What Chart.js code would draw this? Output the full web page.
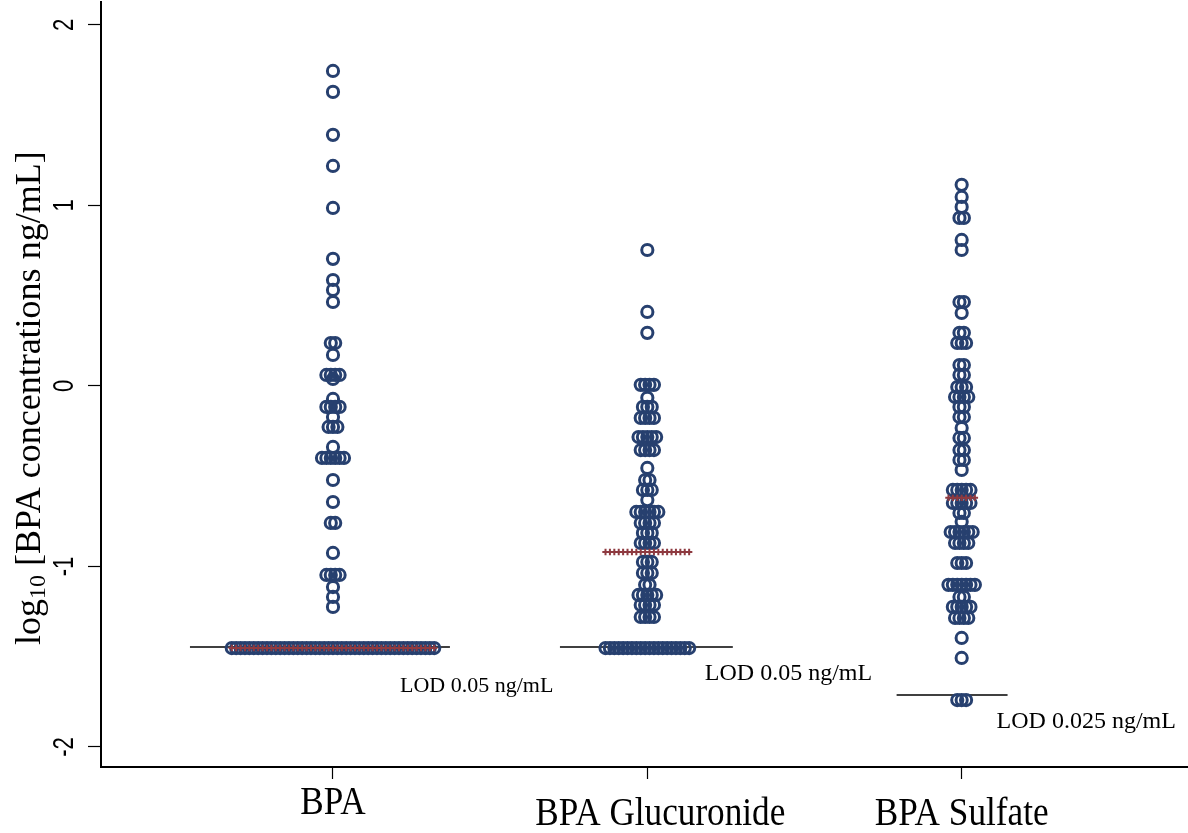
<!DOCTYPE html>
<html>
<head>
<meta charset="utf-8">
<title>BPA dot plot</title>
<script src="https://cdn.jsdelivr.net/npm/chart.js@4/dist/chart.umd.min.js"></script>
<style>
  body { margin: 0; background: #fff; }
</style>
</head>
<body>
<canvas id="dots" width="1188" height="833"></canvas>
<script>
// data (log10 ng/mL); counts = how many subjects sit on each level
const categories = ['BPA', 'BPA Glucuronide', 'BPA Sulfate'];
const yTicks = [-2, -1, 0, 1, 2];

const bpaLevels = [1.745, 1.629, 1.391, 1.219, 0.986, 0.704, 0.587, 0.532, 0.465, 0.238, 0.172, 0.061, 0.039,
  -0.072, -0.116, -0.172, -0.227, -0.338, -0.399, -0.521, -0.643, -0.759, -0.925, -1.047, -1.114, -1.169, -1.224, -1.452];
const bpaCounts = [1, 1, 1, 1, 1, 1, 1, 1, 1, 2, 1, 4, 1, 1, 4, 1, 3, 1, 6, 1, 1, 2, 1, 4, 1, 1, 1, 47];

const glucLevels = [0.753, 0.41, 0.294, 0.006, -0.066, -0.116, -0.177, -0.283, -0.355, -0.454, -0.521, -0.576,
  -0.632, -0.698, -0.759, -0.814, -0.870, -0.975, -1.036, -1.102, -1.158, -1.213, -1.280, -1.452];
const glucCounts = [1, 1, 1, 4, 1, 3, 4, 5, 4, 1, 2, 3, 1, 6, 4, 3, 4, 3, 3, 2, 5, 4, 4, 20];

const sulfLevels = [1.114, 1.047, 0.992, 0.931, 0.809, 0.753, 0.465, 0.404, 0.294, 0.238, 0.116, 0.061, -0.006,
  -0.061, -0.116, -0.172, -0.233, -0.288, -0.355, -0.41, -0.465, -0.576, -0.648, -0.704, -0.753, -0.809, -0.870,
  -0.981, -1.102, -1.169, -1.224, -1.285, -1.396, -1.507, -1.740];
const sulfCounts = [1, 1, 1, 2, 1, 1, 2, 1, 2, 3, 2, 2, 3, 4, 2, 2, 1, 2, 2, 2, 1, 5, 5, 2, 1, 6, 4, 3, 7, 2, 5, 4, 1, 1, 3];

const medians = [-1.452, -0.92, -0.62];
const lodLevels = [-1.446, -1.446, -1.712];
const lodLabels = ['LOD 0.05 ng/mL', 'LOD 0.05 ng/mL', 'LOD 0.025 ng/mL'];

// layout bits (category units / value units)
const dotStep = 0.014;
const lodSpans = [[0.545, 1.372], [1.722, 2.272], [2.793, 3.146]];
const lodTextAt = [[1.213, -1.695], [2.183, -1.629], [3.111, -1.895]];
const lodFontPx = [22, 24, 24];

const NAVY = '#27406f';
const MAROON = '#8e3a40';

function rowDots(levels, counts, cat) {
  const pts = [];
  levels.forEach((v, i) => {
    const n = counts[i];
    for (let j = 0; j < n; j++) pts.push({x: cat + (j - (n - 1) / 2) * dotStep, y: v});
  });
  return pts;
}

function medianRow(value, counts, cat) {
  const n = Math.max(...counts);
  const pts = [];
  for (let j = 0; j < n; j++) pts.push({x: cat + (j - (n - 1) / 2) * dotStep, y: value});
  return pts;
}

const columns = [[bpaLevels, bpaCounts], [glucLevels, glucCounts], [sulfLevels, sulfCounts]];
const datasets = [];

columns.forEach(([lv, ct], i) => {
  datasets.push({
    data: [{x: lodSpans[i][0], y: lodLevels[i]}, {x: lodSpans[i][1], y: lodLevels[i]}],
    showLine: true, borderColor: '#000', borderWidth: 1.6, pointRadius: 0, order: 3
  });
  datasets.push({
    data: rowDots(lv, ct, i + 1),
    pointStyle: 'circle', pointRadius: 5.6, pointBorderWidth: 3,
    pointBorderColor: NAVY, pointBackgroundColor: 'rgba(0,0,0,0)', order: 2
  });
  datasets.push({
    data: medianRow(medians[i], ct, i + 1),
    pointStyle: 'cross', pointRadius: 3.2, pointBorderWidth: 2,
    pointBorderColor: MAROON, order: 1
  });
});

const labelsPlugin = {
  id: 'labels',
  afterDraw(chart) {
    const ctx = chart.ctx;
    const xs = chart.scales.x, ys = chart.scales.y;
    ctx.save();
    ctx.fillStyle = '#000';

    // y tick labels, turned and narrow
    ctx.font = '29px "Liberation Sans"';
    ctx.textAlign = 'center';
    ctx.textBaseline = 'middle';
    yTicks.forEach(v => {
      ctx.save();
      ctx.translate(63.5, ys.getPixelForValue(v));
      ctx.rotate(-Math.PI / 2);
      ctx.scale(0.76, 1);
      ctx.fillText(String(v), 0, 1);
      ctx.restore();
    });

    // y title with subscript
    ctx.save();
    ctx.translate(40, 645);
    ctx.rotate(-Math.PI / 2);
    ctx.textAlign = 'left';
    ctx.textBaseline = 'alphabetic';
    ctx.font = '36px "Liberation Serif"';
    ctx.fillText('log', 0, 0);
    let w = ctx.measureText('log').width;
    ctx.font = '24px "Liberation Serif"';
    ctx.fillText('10', w, 5);
    w += ctx.measureText('10').width;
    ctx.font = '36px "Liberation Serif"';
    ctx.fillText(' [BPA concentrations ng/mL]', w, 0);
    ctx.restore();

    // category labels, narrow and staggered
    ctx.font = '40px "Liberation Serif"';
    ctx.textAlign = 'center';
    ctx.textBaseline = 'alphabetic';
    categories.forEach((c, i) => {
      ctx.save();
      ctx.translate(xs.getPixelForValue(i + 1) + (i === 1 ? 13 : 0), i === 0 ? 814 : 825);
      ctx.scale(0.88, 1);
      ctx.fillText(c, 0, 0);
      ctx.restore();
    });

    // LOD notes
    ctx.textAlign = 'left';
    lodLabels.forEach((t, i) => {
      ctx.font = lodFontPx[i] + 'px "Liberation Serif"';
      ctx.fillText(t, xs.getPixelForValue(lodTextAt[i][0]), ys.getPixelForValue(lodTextAt[i][1]));
    });
    ctx.restore();
  }
};

new Chart(document.getElementById('dots'), {
  type: 'scatter',
  data: {datasets},
  options: {
    responsive: false,
    animation: false,
    layout: {autoPadding: false, padding: {top: 2, right: 0, left: 0, bottom: 0}},
    plugins: {legend: {display: false}, tooltip: {enabled: false}},
    scales: {
      x: {
        type: 'linear', min: 0.262, max: 3.72,
        afterBuildTicks: s => { s.ticks = categories.map((c, i) => ({value: i + 1})); },
        afterFit: s => { s.height = 66; },
        ticks: {display: false},
        grid: {drawOnChartArea: false, drawTicks: true, tickLength: 12, tickColor: '#000', tickWidth: 1.2},
        border: {display: true, color: '#000', width: 2}
      },
      y: {
        type: 'linear', min: -2.111, max: 2.127,
        afterBuildTicks: s => { s.ticks = yTicks.map(v => ({value: v})); },
        afterFit: s => { s.width = 101; },
        ticks: {display: false},
        grid: {drawOnChartArea: false, drawTicks: true, tickLength: 13, tickColor: '#000', tickWidth: 1.2},
        border: {display: true, color: '#000', width: 2}
      }
    }
  },
  plugins: [labelsPlugin]
});
</script>
</body>
</html>
